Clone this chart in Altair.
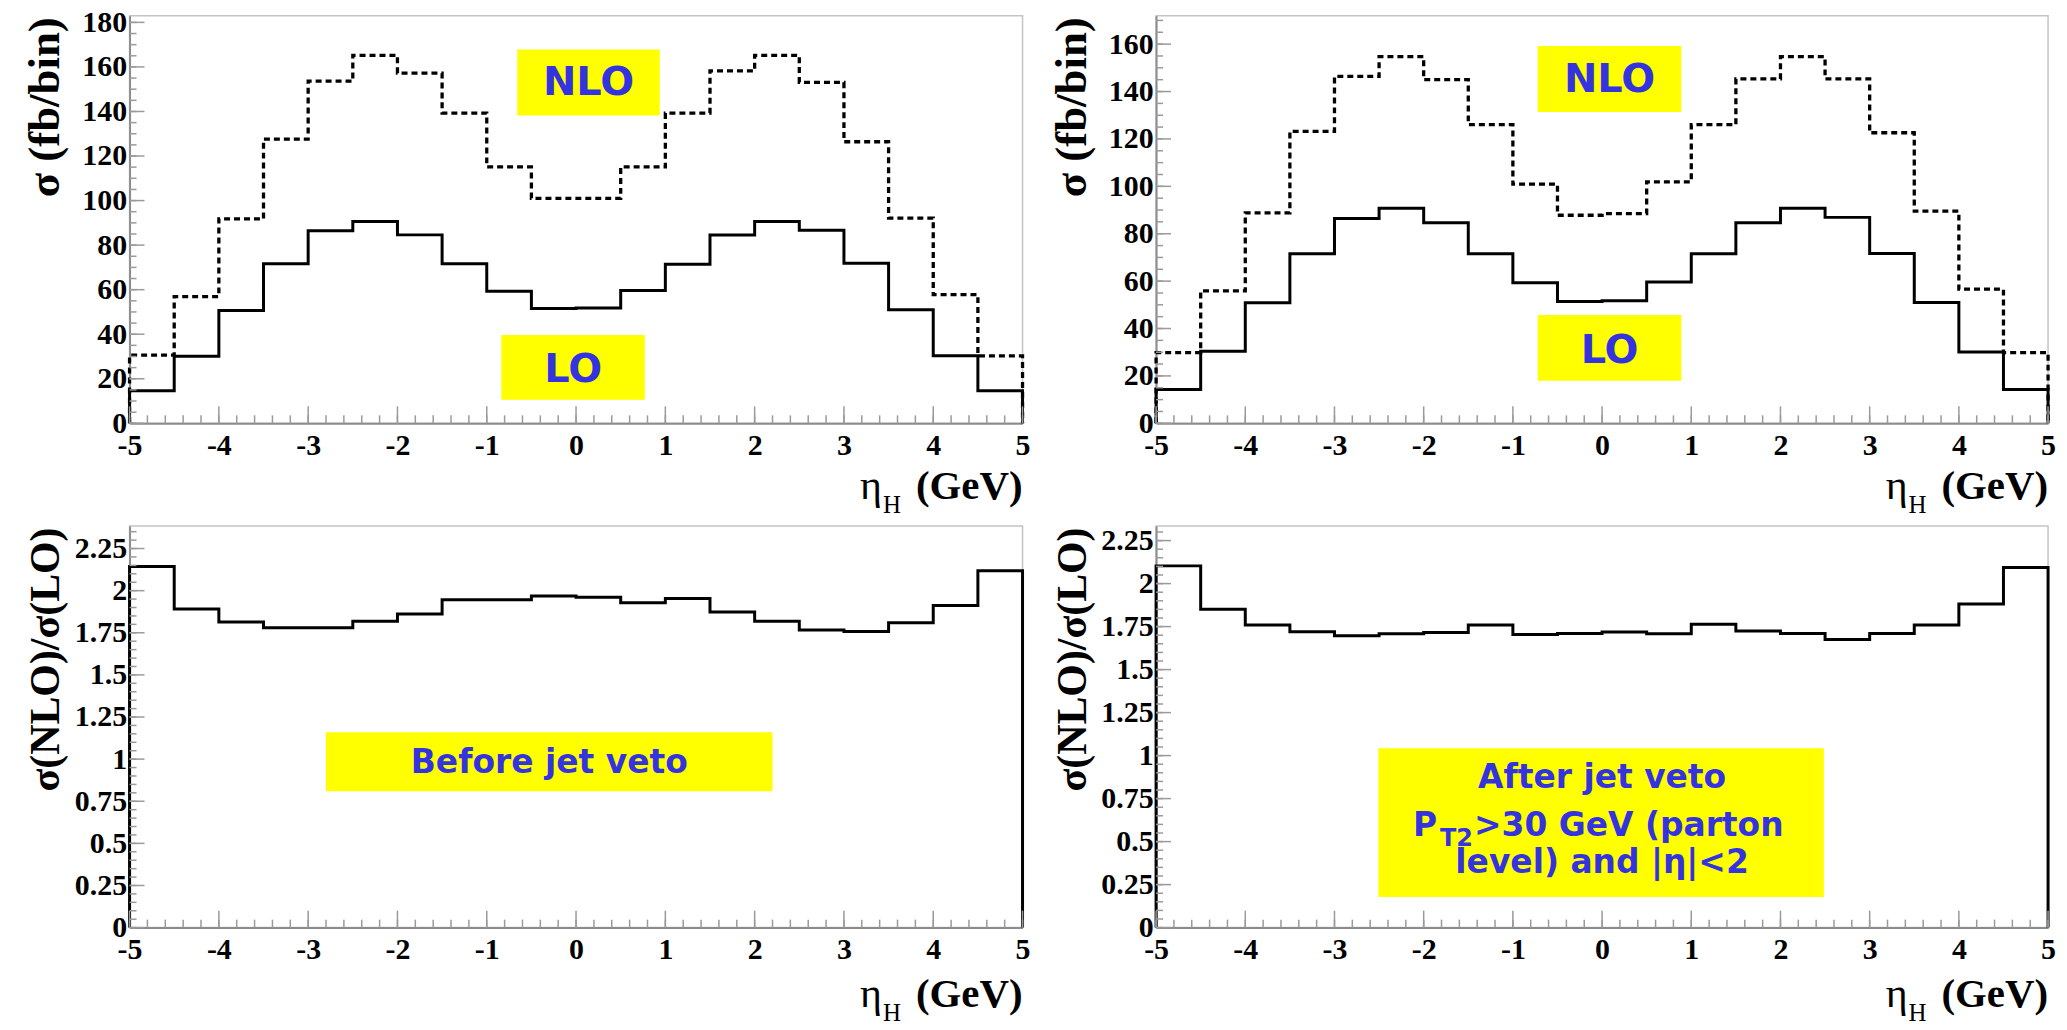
import altair as alt
import pandas as pd

# Bin edges of eta_H (20 bins of width 0.5)
EDGES = [-5.0 + 0.5 * i for i in range(21)]

# Cross sections (fb/bin), before the jet veto
LO_BEFORE = [14.6, 30.1, 50.7, 71.6, 86.4, 90.6, 84.6, 71.6, 59.3, 51.5,
             51.8, 59.6, 71.4, 84.5, 90.6, 86.7, 71.9, 51.0, 30.3, 14.6]
NLO_BEFORE = [30.6, 56.9, 91.8, 127.6, 153.6, 165.2, 157.2, 139.3, 115.1, 101.0,
              101.0, 115.1, 139.3, 158.2, 165.2, 153.1, 126.4, 92.1, 57.8, 30.3]

# Cross sections (fb/bin), after the jet veto
LO_AFTER = [14.3, 30.4, 50.9, 71.6, 86.4, 90.8, 84.6, 71.6, 59.3, 51.4,
            51.7, 59.6, 71.6, 84.6, 90.8, 86.9, 71.7, 51.0, 30.1, 14.3]
NLO_AFTER = [29.8, 55.9, 88.8, 123.2, 146.4, 154.7, 145.0, 126.0, 100.9, 87.8,
             88.5, 101.9, 126.0, 145.3, 154.7, 145.3, 122.6, 89.5, 56.6, 29.8]

# K-factors sigma(NLO)/sigma(LO)
RATIO_BEFORE = [2.143, 1.891, 1.814, 1.780, 1.780, 1.818, 1.861, 1.946, 1.946, 1.968,
                1.961, 1.928, 1.954, 1.873, 1.818, 1.766, 1.758, 1.810, 1.912, 2.118]
RATIO_AFTER = [2.103, 1.851, 1.759, 1.720, 1.697, 1.708, 1.716, 1.759, 1.704, 1.710,
               1.718, 1.708, 1.764, 1.724, 1.710, 1.675, 1.710, 1.759, 1.882, 2.093]

SERIF = "Liberation Serif"
BOX_FONT = "DejaVu Sans"
BLUE = "#3333e0"
YELLOW = "#ffff00"
AXIS_GRAY = "#8c8c8c"
TICK_GRAY = "#9a9a9a"
LABEL_SIZE = 30

X_MAJOR = list(range(-5, 6))
X_MINOR = [round(-5 + 0.2 * i, 1) for i in range(51)]


def step_frame(values):
    """Histogram outline: starts and ends on the axis, flat over each bin."""
    xs = [EDGES[0]] + EDGES[:-1] + [EDGES[-1]]
    ys = [0.0] + list(values) + [0.0]
    return pd.DataFrame({"eta": xs, "val": ys, "k": list(range(len(xs)))})


def panel(width, height, ymax, ymajor, yminor, ytitle, title_size, curves, boxes,
          notes, title_drop):
    xs = alt.Scale(domain=[-5, 5], nice=False, zero=False)
    ys = alt.Scale(domain=[0, ymax], nice=False, zero=False)

    # identical axis definitions are given to every layer so they merge cleanly
    x_axis = alt.Axis(values=X_MAJOR, labelExpr="'' + datum.value", ticks=False,
                      grid=False, domainColor=AXIS_GRAY, domainWidth=2,
                      labelFont=SERIF, labelFontWeight="bold",
                      labelFontSize=LABEL_SIZE, labelColor="black", labelPadding=7,
                      labelFlush=False, title=None)
    y_axis = alt.Axis(values=ymajor, labelExpr="'' + datum.value", ticks=False,
                      grid=False, domainColor=AXIS_GRAY, domainWidth=2,
                      labelFont=SERIF, labelFontWeight="bold",
                      labelFontSize=LABEL_SIZE, labelColor="black", labelPadding=3,
                      labelFlush=False, title=ytitle, titleFont=SERIF,
                      titleFontWeight="bold", titleFontSize=title_size,
                      titleColor="black", titleAngle=270, titleAlign="right",
                      titleBaseline="bottom", titleX=-62, titleY=1)

    def X(field):
        return alt.X(field, scale=xs, axis=x_axis)

    def Y(field):
        return alt.Y(field, scale=ys, axis=y_axis)

    layers = []

    # yellow annotation boxes
    layers.append(
        alt.Chart(pd.DataFrame(boxes)).mark_rect(color=YELLOW).encode(
            x=X("x0:Q"), x2="x1:Q", y=Y("y0:Q"), y2="y1:Q")
    )

    # histogram outlines
    for values, dashed in curves:
        style = dict(interpolate="step-after", color="black", strokeWidth=3,
                     strokeCap="butt")
        if dashed:
            style["strokeDash"] = [6, 4]
            style["strokeWidth"] = 3.3
        layers.append(
            alt.Chart(step_frame(values)).mark_line(**style).encode(
                x=X("eta:Q"), y=Y("val:Q"), order="k:Q")
        )

    # inward tick marks
    def xticks(vals, length):
        return alt.Chart(pd.DataFrame({"t": vals})).mark_rule(
            color=TICK_GRAY, strokeWidth=1.5).encode(
            x=X("t:Q"), y=alt.value(height), y2=alt.value(height - length))

    def yticks(vals, length):
        return alt.Chart(pd.DataFrame({"t": vals})).mark_rule(
            color=TICK_GRAY, strokeWidth=1.5).encode(
            y=Y("t:Q"), x=alt.value(0), x2=alt.value(length))

    layers += [xticks(X_MINOR, 8), xticks(X_MAJOR, 17),
               yticks(yminor, 7), yticks(ymajor, 15)]

    # annotation texts
    for note in notes:
        df = pd.DataFrame({"x": [note["x"]], "y": [note["y"]], "label": [note["text"]]})
        layers.append(
            alt.Chart(df).mark_text(
                font=BOX_FONT, fontWeight="bold", fontSize=note["size"], color=BLUE,
                align=note.get("align", "center"), baseline="alphabetic",
                dx=note.get("dx", 0)).encode(
                x=X("x:Q"), y=Y("y:Q"), text="label:N")
        )

    # x-axis title: eta_H (GeV), right-aligned under the frame
    def title_piece(text, right, drop, size, weight):
        return alt.Chart(pd.DataFrame({"s": [text]})).mark_text(
            font=SERIF, fontSize=size, fontWeight=weight, color="black",
            align="right", baseline="alphabetic").encode(
            text="s:N", x=alt.value(width - right), y=alt.value(height + drop))

    layers += [
        title_piece("(GeV)", 0, title_drop, 41, "bold"),
        title_piece("H", 122, title_drop + 14, 25, "normal"),
        title_piece("η", 141, title_drop, 42, "normal"),
    ]

    return alt.layer(*layers).properties(width=width, height=height)


TOP_MAJOR_L = list(range(0, 181, 20))
TOP_MINOR_L = list(range(0, 181, 5))
TOP_MAJOR_R = list(range(0, 161, 20))
TOP_MINOR_R = list(range(0, 171, 5))
RATIO_MAJOR = [0, 0.25, 0.5, 0.75, 1, 1.25, 1.5, 1.75, 2, 2.25]
RATIO_MINOR_L = [round(0.05 * i, 2) for i in range(48)]
RATIO_MINOR_R = [round(0.05 * i, 2) for i in range(47)]

top_left = panel(
    896, 409, 183, TOP_MAJOR_L, TOP_MINOR_L, "σ (fb/bin)", 45,
    [(NLO_BEFORE, True), (LO_BEFORE, False)],
    {"x0": [-0.658, -0.837], "x1": [0.938, 0.770],
     "y0": [138.2, 10.6], "y1": [167.8, 39.7]},
    [{"x": 0.14, "y": 147.2, "text": "NLO", "size": 40},
     {"x": -0.033, "y": 18.7, "text": "LO", "size": 40}],
    76,
)

top_right = panel(
    895, 409, 172, TOP_MAJOR_R, TOP_MINOR_R, "σ (fb/bin)", 45,
    [(NLO_AFTER, True), (LO_AFTER, False)],
    {"x0": [-0.721, -0.721], "x1": [0.888, 0.888],
     "y0": [131.4, 18.0], "y1": [159.2, 45.7]},
    [{"x": 0.084, "y": 139.8, "text": "NLO", "size": 40},
     {"x": 0.084, "y": 25.5, "text": "LO", "size": 40}],
    76,
)

bottom_left = panel(
    896, 403, 2.384, RATIO_MAJOR, RATIO_MINOR_L, "σ(NLO)/σ(LO)", 42,
    [(RATIO_BEFORE, False)],
    {"x0": [-2.80], "x1": [2.20], "y0": [0.810], "y1": [1.159]},
    [{"x": -0.30, "y": 0.92, "text": "Before jet veto", "size": 33}],
    80,
)

bottom_right = panel(
    895, 403, 2.335, RATIO_MAJOR, RATIO_MINOR_R, "σ(NLO)/σ(LO)", 42,
    [(RATIO_AFTER, False)],
    {"x0": [-2.508], "x1": [2.486], "y0": [0.178], "y1": [1.043]},
    [{"x": 0.0, "y": 0.811, "text": "After jet veto", "size": 33},
     {"x": -1.436, "y": 0.532, "text": ">30 GeV (parton", "size": 33, "align": "left"},
     {"x": -1.436, "y": 0.474, "text": "T2", "size": 24, "align": "right", "dx": -1},
     {"x": -1.436, "y": 0.532, "text": "P", "size": 33, "align": "right", "dx": -37},
     {"x": 0.0, "y": 0.317, "text": "level) and |η|<2", "size": 33}],
    80,
)

chart = (
    alt.concat(top_left, top_right, bottom_left, bottom_right, columns=2,
               spacing={"row": 103, "column": 134}, bounds="flush")
    .properties(padding={"left": 22, "top": 4, "right": 10, "bottom": 4},
                background="white")
    .configure_view(stroke="#c4c4c4", strokeWidth=1.5)
)

chart.save("out.html", embed_options={"renderer": "svg", "actions": False})
